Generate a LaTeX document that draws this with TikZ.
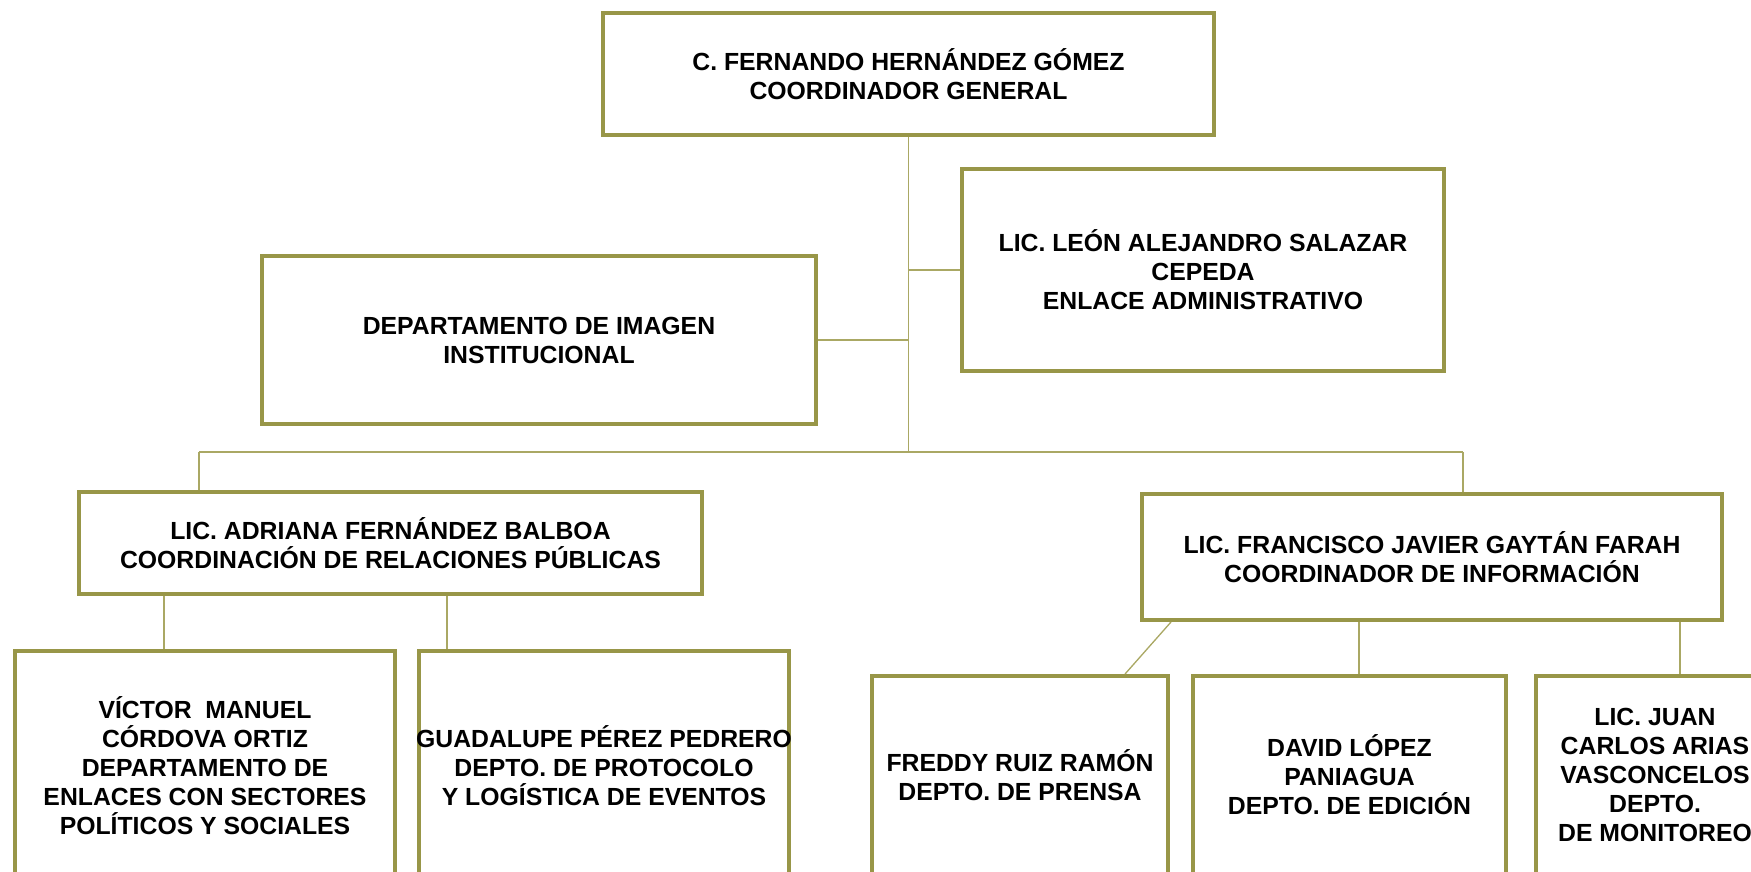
\documentclass[tikz,border=0pt]{standalone}
\usepackage{fontspec}
\setmainfont{Liberation Sans}
\definecolor{olivo}{RGB}{152,150,72}
\definecolor{olivoclaro}{RGB}{170,168,100}

\begin{document}
\begin{tikzpicture}[x=0.02cm, y=-0.02cm,
  caja/.style={draw=olivo, line width=0.08cm, fill=white, align=center, inner sep=0pt,
    font=\fontsize{14.1}{16.5}\selectfont\bfseries},
  liga/.style={draw=olivoclaro, line width=0.75pt}]
\useasboundingbox (0,0) rectangle (1751,872);
\clip (0,0) rectangle (1751,872);

\node[caja, minimum width=12.22cm, minimum height=2.44cm] (CG) at (908.5,74)
  {C. FERNANDO HERNÁNDEZ GÓMEZ\\COORDINADOR GENERAL};
\node[caja, minimum width=9.64cm, minimum height=4.04cm] (EA) at (1203,270)
  {LIC. LEÓN ALEJANDRO SALAZAR\\CEPEDA\\ENLACE ADMINISTRATIVO};
\node[caja, minimum width=11.08cm, minimum height=3.36cm] (II) at (539,340)
  {DEPARTAMENTO DE IMAGEN\\INSTITUCIONAL};
\node[caja, minimum width=12.46cm, minimum height=2.04cm] (RP) at (390.5,543)
  {LIC. ADRIANA FERNÁNDEZ BALBOA\\COORDINACIÓN DE RELACIONES PÚBLICAS};
\node[caja, minimum width=11.6cm, minimum height=2.52cm] (CI) at (1432,557)
  {LIC. FRANCISCO JAVIER GAYTÁN FARAH\\COORDINADOR DE INFORMACIÓN};
\node[caja, minimum width=7.6cm, minimum height=4.62cm] (ES) at (205,766)
  {VÍCTOR~ MANUEL\\CÓRDOVA ORTIZ\\DEPARTAMENTO DE\\ENLACES CON SECTORES\\POLÍTICOS Y SOCIALES};
\node[caja, minimum width=7.4cm, minimum height=4.62cm] (PL) at (604,766)
  {\makebox[7cm]{GUADALUPE PÉREZ PEDRERO}\\DEPTO. DE PROTOCOLO\\Y LOGÍSTICA DE EVENTOS};
\node[caja, minimum width=5.92cm, minimum height=3.96cm] (PR) at (1020,775)
  {FREDDY RUIZ RAMÓN\\DEPTO. DE PRENSA};
\node[caja, minimum width=6.26cm, minimum height=3.96cm] (ED) at (1349.5,775)
  {DAVID LÓPEZ\\PANIAGUA\\DEPTO. DE EDICIÓN};
\node[caja, minimum width=4.76cm, minimum height=3.96cm] (MO) at (1655,775)
  {LIC. JUAN\\CARLOS ARIAS\\VASCONCELOS\\DEPTO.\\DE MONITOREO};

\coordinate (bus) at (908.5,452);
\coordinate (busL) at (199,452);
\coordinate (busR) at (1463,452);
\coordinate (xES) at (164,0);
\coordinate (xPL) at (447,0);
\coordinate (xPRa) at (1171,0);
\coordinate (xPRb) at (1125,0);
\coordinate (xED) at (1359,0);
\coordinate (xMO) at (1680,0);

\draw[liga] (CG.south) -- (bus);
\draw[liga] (CG.south |- EA.west) -- (EA.west);
\draw[liga] (II.east) -- (II.east -| CG.south);
\draw[liga] (busL) -- (busR);
\draw[liga] (busL) -- (busL |- RP.north);
\draw[liga] (busR) -- (busR |- CI.north);

\draw[liga] (RP.south -| xES) -- (ES.north -| xES);
\draw[liga] (RP.south -| xPL) -- (PL.north -| xPL);
\draw[liga] (CI.south -| xPRa) -- (PR.north -| xPRb);
\draw[liga] (CI.south -| xED) -- (ED.north -| xED);
\draw[liga] (CI.south -| xMO) -- (MO.north -| xMO);
\end{tikzpicture}
\end{document}
